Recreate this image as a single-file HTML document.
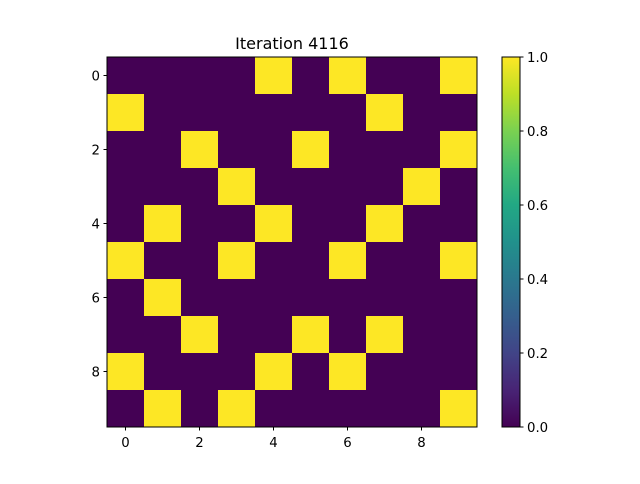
<!DOCTYPE html>
<html><head><meta charset="utf-8"><style>
body{margin:0;background:#fff;font-family:"DejaVu Sans","Liberation Sans",sans-serif}
svg text{font-family:"DejaVu Sans","Liberation Sans",sans-serif}
</style></head><body>
<svg id="chart" width="640" height="480" xmlns="http://www.w3.org/2000/svg">
<defs><linearGradient id="vir" x1="0" y1="1" x2="0" y2="0">
<stop offset="0" stop-color="#440154"/><stop offset="0.1" stop-color="#482475"/><stop offset="0.2" stop-color="#414487"/><stop offset="0.3" stop-color="#355f8d"/><stop offset="0.4" stop-color="#2a788e"/><stop offset="0.5" stop-color="#21918c"/><stop offset="0.6" stop-color="#22a884"/><stop offset="0.7" stop-color="#44bf70"/><stop offset="0.8" stop-color="#7ad151"/><stop offset="0.9" stop-color="#bddf26"/><stop offset="1" stop-color="#fde725"/>
</linearGradient></defs>
<text x="292" y="49" text-anchor="middle" font-size="16">Iteration 4116</text>
<g id="cells"></g>
<rect x="107" y="57" width="370" height="370" fill="none" stroke="#000" stroke-width="1"/>
<g id="axes" font-size="13.3"></g>
<rect x="502" y="57" width="18" height="370" fill="url(#vir)" stroke="#000" stroke-width="1"/>
<g id="cbar" font-size="13.3"></g>
</svg>
<script>
const rows = [
 [0,0,0,0,1,0,1,0,0,1],
 [1,0,0,0,0,0,0,1,0,0],
 [0,0,1,0,0,1,0,0,0,1],
 [0,0,0,1,0,0,0,0,1,0],
 [0,1,0,0,1,0,0,1,0,0],
 [1,0,0,1,0,0,1,0,0,1],
 [0,1,0,0,0,0,0,0,0,0],
 [0,0,1,0,0,1,0,1,0,0],
 [1,0,0,0,1,0,1,0,0,0],
 [0,1,0,1,0,0,0,0,0,1]
];
const xTicks = [0,2,4,6,8];
const yTicks = [0,2,4,6,8];
const cbarTicks = [0.0,0.2,0.4,0.6,0.8,1.0];
const NS="http://www.w3.org/2000/svg";
const X0=107,Y0=57,W=370,H=370;
const n=rows.length, cw=W/rows[0].length, ch=H/n;
const xs=i=>X0+i*cw, ys=j=>Y0+j*ch;
const cells=document.getElementById('cells');
rows.forEach((r,j)=>r.forEach((v,i)=>{
 const e=document.createElementNS(NS,'rect');
 e.setAttribute('x',xs(i));e.setAttribute('y',ys(j));
 e.setAttribute('width',cw+0.3);e.setAttribute('height',ch+0.3);
 e.setAttribute('fill',v?'#fde725':'#440154');
 
 
 cells.appendChild(e);
}));
const ax=document.getElementById('axes');
function add(p,tag,attrs,txt){const e=document.createElementNS(NS,tag);for(const k in attrs)e.setAttribute(k,attrs[k]);if(txt!==undefined)e.textContent=txt;p.appendChild(e);return e;}
xTicks.forEach(t=>{const x=xs(t)+cw/2;
 add(ax,'line',{x1:x,x2:x,y1:427,y2:430.5,stroke:'#000'});
 const l=add(ax,'text',{x:x,y:447,'text-anchor':'middle'},String(t));
 
 
});
yTicks.forEach(t=>{const y=ys(t)+ch/2;
 add(ax,'line',{x1:103.5,x2:107,y1:y,y2:y,stroke:'#000'});
 const l=add(ax,'text',{x:100,y:y+5,'text-anchor':'end'},String(t));
 
 
});
const cb=document.getElementById('cbar');
cbarTicks.forEach(t=>{const y=427-t*370;
 add(cb,'line',{x1:520,x2:523.5,y1:y,y2:y,stroke:'#000'});
 const l=add(cb,'text',{x:527,y:y+5},t.toFixed(1));
 
 
});
</script>
</body></html>
